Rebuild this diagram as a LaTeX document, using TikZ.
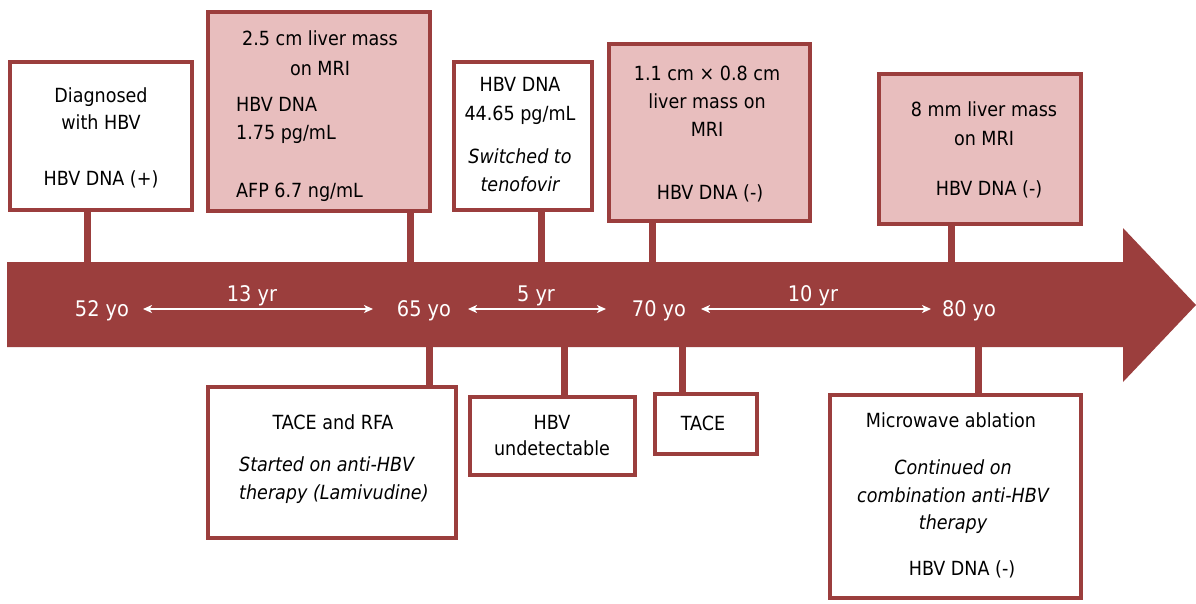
\documentclass[tikz,border=0pt]{standalone}
\usepackage{fontspec}
\setmainfont{DejaVu Sans Condensed}
\usetikzlibrary{arrows.meta}
\definecolor{arrowred}{RGB}{155,62,61}
\definecolor{boxpink}{RGB}{232,190,190}
\tikzset{
  box/.style={draw=arrowred, line width=4pt, fill=white, inner sep=0pt, rectangle},
  pinkbox/.style={box, fill=boxpink},
  stem/.style={draw=arrowred, line width=7pt},
  ln/.style={font=\fontsize{19.5}{24}\selectfont, anchor=base, inner sep=0pt, text=black},
  lnl/.style={ln, anchor=base west},
  it/.style={font=\fontsize{19.5}{24}\selectfont\itshape},
  age/.style={font=\fontsize{21.5}{26}\selectfont, anchor=base, inner sep=0pt, text=white},
  dbl/.style={draw=white, line width=1.5pt, {Stealth[length=9pt,width=8pt,inset=2.5pt]}-{Stealth[length=9pt,width=8pt,inset=2.5pt]}}
}
\begin{document}
\begin{tikzpicture}[x=1pt,y=-1pt]
\useasboundingbox (0,0) rectangle (1196,603);
% timeline arrow
\fill[arrowred] (7,262) -- (1123,262) -- (1123,228) -- (1196,305) -- (1123,382) -- (1123,347) -- (7,347) -- cycle;
% boxes
\node[box, minimum width=182pt, minimum height=148pt] (b1) at (101,136) {};
\node[pinkbox, minimum width=222pt, minimum height=199pt] (b2) at (319,111.5) {};
\node[box, minimum width=138pt, minimum height=148pt] (b3) at (523,136) {};
\node[pinkbox, minimum width=201pt, minimum height=177pt] (b4) at (709.5,132.5) {};
\node[pinkbox, minimum width=202pt, minimum height=150pt] (b5) at (980,149) {};
\node[box, minimum width=248pt, minimum height=151pt] (b6) at (332,462.5) {};
\node[box, minimum width=165pt, minimum height=78pt] (b7) at (552.5,436) {};
\node[box, minimum width=102pt, minimum height=60pt] (b8) at (706,424) {};
\node[box, minimum width=251pt, minimum height=203pt] (b9) at (955.5,496.5) {};
% stem anchor points on the arrow
\coordinate (s1) at (87,262);
\coordinate (s2) at (410,262);
\coordinate (s3) at (541,262);
\coordinate (s4) at (652,262);
\coordinate (s5) at (951,262);
\coordinate (s6) at (429,347);
\coordinate (s7) at (564,347);
\coordinate (s8) at (682,347);
\coordinate (s9) at (978,347);
\draw[stem] (s1) -- (s1 |- b1.south);
\draw[stem] (s2) -- (s2 |- b2.south);
\draw[stem] (s3) -- (s3 |- b3.south);
\draw[stem] (s4) -- (s4 |- b4.south);
\draw[stem] (s5) -- (s5 |- b5.south);
\draw[stem] (s6) -- (s6 |- b6.north);
\draw[stem] (s7) -- (s7 |- b7.north);
\draw[stem] (s8) -- (s8 |- b8.north);
\draw[stem] (s9) -- (s9 |- b9.north);
% box texts
\node[ln] (t1a) at (101,102) {Diagnosed};
\node[ln] (t1b) at (101,129) {with HBV};
\node[ln] (t1c) at (101,185) {HBV DNA (+)};
\node[ln] (t2a) at (320,45) {2.5 cm liver mass};
\node[ln] (t2b) at (320,75) {on MRI};
\node[lnl] (t2c) at (236,111) {HBV DNA};
\node[lnl] (t2d) at (236,139) {1.75 pg/mL};
\node[lnl] (t2e) at (236,197) {AFP 6.7 ng/mL};
\node[ln] (t3a) at (520,91) {HBV DNA};
\node[ln] (t3b) at (520,120) {44.65 pg/mL};
\node[ln, it] (t3c) at (520,163) {Switched to};
\node[ln, it] (t3d) at (520,191) {tenofovir};
\node[ln] (t4a) at (707,80) {1.1 cm × 0.8 cm};
\node[ln] (t4b) at (707,108) {liver mass on};
\node[ln] (t4c) at (707,136) {MRI};
\node[ln] (t4d) at (710,199) {HBV DNA (-)};
\node[ln] (t5a) at (984,116) {8 mm liver mass};
\node[ln] (t5b) at (984,145) {on MRI};
\node[ln] (t5c) at (989,195) {HBV DNA (-)};
\node[ln] (t6a) at (333,429) {TACE and RFA};
\node[lnl, it] (t6b) at (239,471) {Started on anti-HBV};
\node[lnl, it] (t6c) at (239,499) {therapy (Lamivudine)};
\node[ln] (t7a) at (552,429) {HBV};
\node[ln] (t7b) at (552,455) {undetectable};
\node[ln] (t8a) at (703,430) {TACE};
\node[ln] (t9a) at (951,427) {Microwave ablation};
\node[ln, it] (t9b) at (953,474) {Continued on};
\node[ln, it] (t9c) at (953,502) {combination anti-HBV};
\node[ln, it] (t9d) at (953,529) {therapy};
\node[ln] (t9e) at (962,575) {HBV DNA (-)};
% ages and intervals
\node[age] (a52) at (102,316) {52 yo};
\node[age] (a65) at (424,316) {65 yo};
\node[age] (a70) at (659,316) {70 yo};
\node[age] (a80) at (969,316) {80 yo};
\node[age] (y13) at (252,301) {13 yr};
\node[age] (y5) at (536,301) {5 yr};
\node[age] (y10) at (813,301) {10 yr};
\coordinate (d1a) at (143,309);
\coordinate (d1b) at (373,309);
\coordinate (d2a) at (468,309);
\coordinate (d2b) at (606,309);
\coordinate (d3a) at (701,309);
\coordinate (d3b) at (931,309);
\draw[dbl] (d1a) -- (d1b);
\draw[dbl] (d2a) -- (d2b);
\draw[dbl] (d3a) -- (d3b);
\end{tikzpicture}
\end{document}
